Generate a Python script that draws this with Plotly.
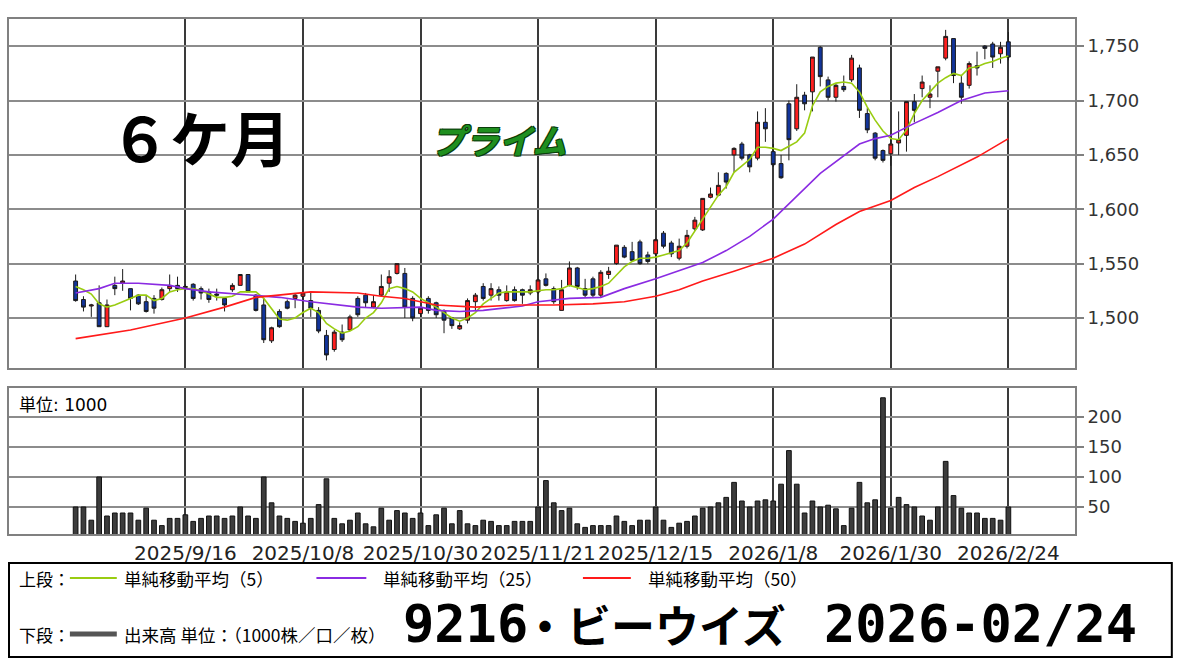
import plotly.graph_objects as go
import pandas as pd

# ---------------- data ----------------
holidays = ["2025-09-15", "2025-09-23", "2025-10-13", "2025-11-03", "2025-11-24",
            "2025-12-31", "2026-01-01", "2026-01-02", "2026-01-12", "2026-02-11", "2026-02-23"]
_days = [d for d in pd.bdate_range("2025-08-26", "2026-02-24") if d.strftime("%Y-%m-%d") not in holidays]
dates = [f"{d.year}/{d.month}/{d.day}" for d in _days]

tick_dates = ["2025/9/16", "2025/10/8", "2025/10/30", "2025/11/21",
              "2025/12/15", "2026/1/8", "2026/1/30", "2026/2/24"]

opens = [1534, 1517, 1511, 1514, 1492, 1530, 1532, 1527, 1521, 1515,
         1518, 1517, 1527, 1530, 1528, 1531, 1527, 1524, 1522, 1518,
         1526, 1530, 1540, 1521, 1512, 1479, 1506, 1515, 1518, 1520,
         1516, 1507, 1484, 1471, 1487, 1489, 1518, 1521, 1510, 1521,
         1532, 1541, 1541, 1518, 1504, 1518, 1514, 1506, 1500, 1490,
         1498, 1515, 1529, 1521, 1526, 1516, 1526, 1526, 1523, 1524,
         1536, 1527, 1507, 1530, 1546, 1527, 1536, 1521, 1540, 1550,
         1565, 1561, 1570, 1558, 1559, 1578, 1569, 1555, 1566, 1582,
         1581, 1611, 1613, 1633, 1650, 1660, 1650, 1647, 1680, 1653,
         1642, 1697, 1674, 1705, 1708, 1749, 1719, 1703, 1713, 1719,
         1730, 1688, 1670, 1654, 1651, 1661, 1668, 1699, 1711, 1703,
         1727, 1739, 1757, 1716, 1714, 1732, 1750, 1752, 1743, 1754]
highs = [1540, 1520, 1513, 1530, 1517, 1538, 1545, 1527, 1522, 1521,
         1521, 1528, 1540, 1538, 1531, 1532, 1529, 1527, 1527, 1519,
         1532, 1540, 1540, 1522, 1518, 1492, 1508, 1517, 1523, 1524,
         1523, 1510, 1489, 1489, 1494, 1503, 1520, 1523, 1521, 1540,
         1544, 1550, 1546, 1520, 1510, 1520, 1515, 1508, 1501, 1496,
         1518, 1523, 1532, 1532, 1529, 1530, 1529, 1527, 1530, 1536,
         1541, 1529, 1535, 1552, 1547, 1536, 1538, 1544, 1547, 1567,
         1567, 1570, 1572, 1561, 1573, 1580, 1571, 1573, 1581, 1593,
         1610, 1620, 1634, 1634, 1657, 1662, 1651, 1690, 1693, 1660,
         1650, 1700, 1715, 1708, 1740, 1750, 1722, 1716, 1723, 1742,
         1733, 1693, 1671, 1655, 1664, 1690, 1699, 1706, 1723, 1714,
         1731, 1765, 1757, 1723, 1736, 1745, 1751, 1754, 1754, 1763]
lows = [1515, 1506, 1501, 1492, 1492, 1521, 1525, 1507, 1512, 1505,
        1504, 1516, 1524, 1524, 1525, 1516, 1517, 1514, 1516, 1506,
        1524, 1530, 1524, 1506, 1477, 1477, 1491, 1508, 1509, 1515,
        1501, 1486, 1461, 1469, 1478, 1488, 1501, 1510, 1509, 1520,
        1524, 1540, 1500, 1497, 1501, 1504, 1500, 1486, 1490, 1489,
        1495, 1507, 1516, 1516, 1516, 1515, 1515, 1513, 1521, 1522,
        1529, 1513, 1507, 1529, 1526, 1519, 1519, 1519, 1536, 1549,
        1555, 1553, 1549, 1550, 1557, 1564, 1556, 1553, 1564, 1580,
        1580, 1610, 1612, 1619, 1634, 1645, 1634, 1645, 1662, 1639,
        1628, 1645, 1672, 1691, 1690, 1713, 1700, 1699, 1708, 1717,
        1684, 1670, 1645, 1643, 1640, 1650, 1653, 1680, 1703, 1693,
        1703, 1737, 1716, 1697, 1711, 1723, 1738, 1730, 1734, 1737]
closes = [1516, 1510, 1512, 1492, 1512, 1527, 1534, 1518, 1513, 1506,
          1509, 1526, 1530, 1527, 1529, 1518, 1523, 1517, 1521, 1512,
          1530, 1540, 1524, 1507, 1480, 1491, 1492, 1509, 1521, 1523,
          1509, 1488, 1466, 1487, 1480, 1501, 1503, 1514, 1515, 1529,
          1538, 1550, 1510, 1500, 1509, 1507, 1503, 1498, 1493, 1493,
          1516, 1521, 1518, 1527, 1521, 1524, 1516, 1521, 1526, 1535,
          1530, 1515, 1526, 1546, 1529, 1521, 1521, 1542, 1543, 1567,
          1556, 1553, 1550, 1552, 1572, 1566, 1559, 1566, 1576, 1590,
          1610, 1614, 1622, 1625, 1656, 1647, 1639, 1680, 1674, 1641,
          1629, 1664, 1703, 1697, 1740, 1722, 1703, 1714, 1710, 1739,
          1691, 1673, 1647, 1645, 1660, 1664, 1699, 1691, 1717, 1706,
          1731, 1759, 1723, 1703, 1734, 1730, 1748, 1740, 1749, 1740]
volume = [50, 50, 28, 100, 35, 40, 40, 40, 28, 48,
          28, 19, 31, 31, 37, 26, 31, 35, 35, 31,
          35, 50, 35, 31, 100, 57, 35, 31, 26, 23,
          31, 54, 97, 31, 22, 28, 40, 22, 17, 48,
          28, 44, 40, 31, 40, 19, 37, 48, 22, 44,
          22, 19, 28, 26, 19, 19, 26, 26, 26, 50,
          94, 57, 44, 48, 22, 16, 19, 19, 19, 35,
          26, 19, 28, 28, 50, 28, 16, 23, 26, 35,
          48, 50, 57, 66, 91, 60, 50, 60, 62, 60,
          88, 144, 88, 40, 60, 50, 53, 47, 19, 48,
          91, 57, 62, 232, 48, 66, 54, 50, 35, 28,
          50, 126, 69, 48, 40, 40, 31, 31, 28, 50]
ma5 = [1529, 1526, 1522, 1513, 1510, 1512, 1515, 1518, 1521, 1521,
       1516, 1518, 1524, 1526, 1527, 1527, 1525, 1522, 1519, 1519,
       1520, 1524, 1524, 1524, 1518, 1508, 1499, 1498, 1500, 1505,
       1509, 1505, 1495, 1490, 1486, 1488, 1492, 1500, 1505, 1514,
       1527, 1529, 1527, 1524, 1518, 1514, 1510, 1505, 1500, 1497,
       1500, 1505, 1513, 1518, 1523, 1524, 1524, 1524, 1524, 1525,
       1526, 1526, 1527, 1530, 1528, 1526, 1527, 1529, 1532, 1540,
       1547, 1552, 1555, 1555, 1556, 1558, 1560, 1562, 1569, 1580,
       1590, 1601, 1613, 1621, 1634, 1640, 1646, 1657, 1657, 1656,
       1654, 1658, 1662, 1670, 1695, 1708, 1713, 1716, 1717, 1716,
       1708, 1694, 1682, 1672, 1665, 1664, 1673, 1688, 1700, 1708,
       1716, 1721, 1725, 1723, 1730, 1731, 1734, 1736, 1739, 1741]
ma25_day = [0, 3, 5, 8, 12, 14, 17, 22, 26, 30, 34, 36, 39, 44, 46, 49, 52, 55, 57, 59,
            63, 67, 70, 74, 80, 83, 86, 89, 95, 100, 102, 104, 107, 110, 113, 116, 119]
ma25_val = [1523, 1527, 1532, 1532, 1530, 1527, 1524, 1521, 1519, 1515, 1512, 1510, 1509, 1510,
            1507, 1506, 1507, 1509, 1511, 1515, 1518, 1519, 1527, 1536, 1551, 1562, 1575, 1591,
            1633, 1660, 1665, 1668, 1679, 1689, 1700, 1707, 1709]
ma50_day = [0, 7, 14, 19, 23, 30, 36, 39, 42, 46, 51, 56, 61, 66, 70, 74, 77, 80, 84, 89,
            93, 97, 100, 104, 107, 110, 115, 119]
ma50_val = [1481, 1489, 1500, 1510, 1519, 1524, 1523, 1520, 1518, 1512, 1510, 1512, 1512, 1513,
            1515, 1520, 1526, 1534, 1543, 1555, 1568, 1586, 1598, 1608, 1620, 1630, 1648, 1665]

# ---------------- layout helpers ----------------
W, H = 1180, 663
L, R, T, B = 7, 1075, 19, 534


def px(x):
    return (x - L) / (R - L)


def py(y):
    return (B - y) / (B - T)


LAT = "DejaVu Sans, Noto Sans CJK JP"
JP = "Noto Sans CJK JP"
MONO = "DejaVu Sans Mono, Liberation Mono, monospace"

fig = go.Figure()
fig.add_trace(go.Candlestick(
    x=dates, open=opens, high=highs, low=lows, close=closes,
    increasing=dict(fillcolor="#ff1f1f", line=dict(color="#1a1a1a", width=1)),
    decreasing=dict(fillcolor="#12349a", line=dict(color="#1a1a1a", width=1)),
    whiskerwidth=0, xaxis="x", yaxis="y", showlegend=False, hoverinfo="skip"))
fig.add_trace(go.Scatter(x=dates, y=ma5, mode="lines", line=dict(color="#99cc11", width=1.6),
                         xaxis="x", yaxis="y", showlegend=False, hoverinfo="skip"))
fig.add_trace(go.Scatter(x=[dates[i] for i in ma25_day], y=ma25_val, mode="lines",
                         line=dict(color="#8a2be2", width=1.6), xaxis="x", yaxis="y",
                         showlegend=False, hoverinfo="skip"))
fig.add_trace(go.Scatter(x=[dates[i] for i in ma50_day], y=ma50_val, mode="lines",
                         line=dict(color="#ff1a1a", width=1.6), xaxis="x", yaxis="y",
                         showlegend=False, hoverinfo="skip"))
fig.add_trace(go.Bar(x=dates, y=volume, width=0.6, marker=dict(color="#3c3c3c", line=dict(color="#111", width=1)),
                     xaxis="x2", yaxis="y2", showlegend=False, hoverinfo="skip"))

xcommon = dict(type="category", categoryorder="array", categoryarray=dates,
               range=[-8.5, 127.5], tickvals=tick_dates, ticktext=tick_dates,
               showgrid=True, gridcolor="#3a3a3a", gridwidth=1.5,
               showline=True, mirror=True, linecolor="#808080", linewidth=2,
               ticks="", zeroline=False, fixedrange=True)
ycommon = dict(side="right", showgrid=True, gridcolor="#8c8c8c", gridwidth=1.5,
               showline=True, mirror=True, linecolor="#808080", linewidth=2,
               ticks="outside", ticklen=7, tickcolor="#808080", tickwidth=1.5,
               tickfont=dict(family=LAT, size=18, color="#333"), zeroline=False)

fig.update_layout(
    width=W, height=H, margin=dict(l=L, r=W - R, t=T, b=H - B),
    paper_bgcolor="white", plot_bgcolor="white", showlegend=False,
    xaxis=dict(xcommon, anchor="y", showticklabels=False, rangeslider=dict(visible=False)),
    yaxis=dict(ycommon, domain=[py(368), 1], range=[1454, 1775],
               tickvals=[1500, 1550, 1600, 1650, 1700, 1750], tickformat=","),
    xaxis2=dict(xcommon, anchor="y2", showticklabels=True,
                tickfont=dict(family=LAT, size=20, color="#222")),
    yaxis2=dict(ycommon, domain=[0, py(388)], range=[5, 248.3], tickvals=[50, 100, 150, 200]),
)

ann = []


def text(x, y, s, size, family=JP, color="#000", anchor="left", weight="normal", **kw):
    ann.append(dict(x=px(x), y=py(y), xref="paper", yref="paper", text=s, showarrow=False,
                    xanchor=anchor, yanchor="middle",
                    font=dict(family=family, size=size, color=color, weight=weight, **kw)))


text(106, 135, "６ケ月", 60, weight="bold")
text(428, 139, "プライム", 34, color="#1f8f1f", weight="bold", style="italic",
     shadow="1px 1px 0 #0b3d0b, -1px -1px 0 #0b3d0b, 1px -1px 0 #0b3d0b, -1px 1px 0 #0b3d0b")
text(15, 405, "単位: 1000", 17, family=LAT)
text(15, 578, "上段：", 17)
text(120, 578, "単純移動平均（5）", 17.5)
text(380, 578, "単純移動平均（25）", 17.5)
text(645, 578, "単純移動平均（50）", 17.5)
text(15, 634, "下段：", 17)
text(120, 634, "出来高 単位：（1000株／口／枚）", 17.5)
text(400, 624, "9216", 52, family=MONO, weight="bold")
text(520, 624, "・ビーウイズ", 44, weight="bold")
text(822, 624, "2026-02/24", 52, family=MONO, weight="bold")

shapes = [
    dict(type="rect", xref="paper", yref="paper", x0=px(7), x1=px(1172), y0=py(657), y1=py(563),
         line=dict(color="#000", width=2)),
    dict(type="line", xref="paper", yref="paper", x0=px(68), x1=px(115), y0=py(578), y1=py(578),
         line=dict(color="#99cc11", width=2)),
    dict(type="line", xref="paper", yref="paper", x0=px(315), x1=px(365), y0=py(578), y1=py(578),
         line=dict(color="#8a2be2", width=2)),
    dict(type="line", xref="paper", yref="paper", x0=px(582), x1=px(630), y0=py(578), y1=py(578),
         line=dict(color="#ff1a1a", width=2)),
    dict(type="line", xref="paper", yref="paper", x0=px(68), x1=px(115), y0=py(634), y1=py(634),
         line=dict(color="#555", width=5)),
]
fig.update_layout(annotations=ann, shapes=shapes)

fig.write_html("out.html", config={"displayModeBar": False},
               post_script="document.body.style.margin='0px';")
